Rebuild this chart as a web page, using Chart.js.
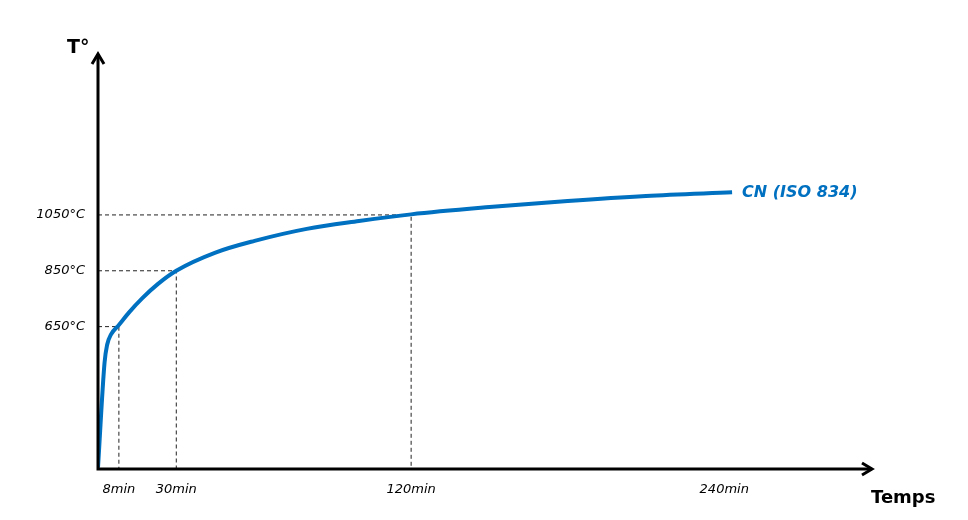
<!DOCTYPE html>
<html>
<head>
<meta charset="utf-8">
<title>CN (ISO 834)</title>
<script src="https://cdn.jsdelivr.net/npm/chart.js@4/dist/chart.umd.min.js"></script>
<style>
  html, body { margin: 0; padding: 0; background: #fff; }
  canvas { display: block; }
</style>
</head>
<body>
<canvas id="fire-chart" width="968" height="520"></canvas>
<script>
'use strict';

// DATA (MINUTES / DEGREES)
const curveMinutes = [0, 2.5, 3.5, 5, 8, 12, 17, 23, 30, 45, 60, 80, 100, 120, 150, 180, 210, 243];
const curveTemps = [145, 520, 585, 622, 656, 702, 752, 803, 850, 915, 957, 1000, 1028, 1052, 1078, 1100, 1118, 1131];

// TICKS AND GUIDE LINES
const tickMinutes = [8, 30, 120, 240];
const tickTemps = [650, 850, 1050];
const guideMinutes = [8, 30, 120];
const guideTemps = [650, 850, 1050];

const curveLabel = 'CN (ISO 834)';
const curveColor = '#0070C0';
const Y_MIN = 140;
const Y_MAX = 1630;

// BUILD THE DATASETS
const curvePoints = curveMinutes.map((t, i) => ({ x: t, y: curveTemps[i] }));

const guideSets = guideMinutes.map((t, i) => ({
  label: 'guide ' + t,
  data: [
    { x: 0, y: guideTemps[i] },
    { x: t, y: guideTemps[i] },
    { x: t, y: Y_MIN },
  ],
  borderColor: '#222',
  borderWidth: 1,
  borderDash: [4, 3],
  pointRadius: 0,
  tension: 0,
}));

// AXES WITH ARROWS AND THE FREE TEXTS
const decorPlugin = {
  id: 'decor',
  afterDraw(chart) {
    const ctx = chart.ctx;
    const { left, right, top, bottom } = chart.chartArea;
    ctx.save();
    ctx.strokeStyle = '#000';
    ctx.lineWidth = 3;
    ctx.lineJoin = 'miter';
    ctx.beginPath();
    ctx.moveTo(left, top + 1);
    ctx.lineTo(left, bottom);
    ctx.lineTo(right - 1, bottom);
    ctx.stroke();
    // arrow heads
    ctx.beginPath();
    ctx.moveTo(left - 6, top + 11);
    ctx.lineTo(left, top + 1);
    ctx.lineTo(left + 6, top + 11);
    ctx.moveTo(right - 11, bottom - 6);
    ctx.lineTo(right - 1, bottom);
    ctx.lineTo(right - 11, bottom + 6);
    ctx.stroke();

    ctx.fillStyle = '#000';
    ctx.textBaseline = 'alphabetic';
    ctx.textAlign = 'left';
    ctx.font = 'bold 19px "DejaVu Sans"';
    ctx.fillText('T°', left - 31, top);
    ctx.font = 'bold 18px "DejaVu Sans"';
    ctx.fillText('Temps', right - 2, bottom + 34);

    // curve label next to the last point
    const pts = chart.getDatasetMeta(0).data;
    const last = pts[pts.length - 1];
    ctx.fillStyle = curveColor;
    ctx.font = 'italic bold 16px "DejaVu Sans"';
    ctx.textBaseline = 'middle';
    ctx.fillText(curveLabel, last.x + 10, last.y + 1);
    ctx.restore();
  },
};

const tickFont = { family: '"DejaVu Sans"', size: 13, style: 'italic' };

const config = {
  type: 'line',
  data: {
    datasets: [
      {
        label: curveLabel,
        data: curvePoints,
        borderColor: curveColor,
        borderWidth: 4,
        pointRadius: 0,
        cubicInterpolationMode: 'monotone',
      },
      ...guideSets,
    ],
  },
  options: {
    responsive: false,
    animation: false,
    layout: { padding: { top: 53, right: 95, left: 0, bottom: 0 } },
    plugins: {
      legend: { display: false },
      tooltip: { enabled: false },
    },
    scales: {
      x: {
        type: 'linear',
        min: 0,
        max: 297,
        grid: { display: false, drawTicks: false },
        border: { display: false },
        afterBuildTicks: (scale) => {
          scale.ticks = tickMinutes.map((v) => ({ value: v }));
        },
        afterFit: (scale) => {
          scale.height = 51;
        },
        ticks: {
          autoSkip: false,
          maxRotation: 0,
          padding: 13,
          color: '#000',
          font: tickFont,
          callback: (v) => v + 'min',
        },
      },
      y: {
        type: 'linear',
        min: Y_MIN,
        max: Y_MAX,
        grid: { display: false, drawTicks: false },
        border: { display: false },
        afterBuildTicks: (scale) => {
          scale.ticks = tickTemps.map((v) => ({ value: v }));
        },
        afterFit: (scale) => {
          scale.width = 98;
        },
        ticks: {
          autoSkip: false,
          padding: 13,
          color: '#000',
          font: tickFont,
          callback: (v) => v + '°C',
        },
      },
    },
  },
  plugins: [decorPlugin],
};

const fireChart = new Chart(document.querySelector('#fire-chart'), config);
</script>
</body>
</html>
